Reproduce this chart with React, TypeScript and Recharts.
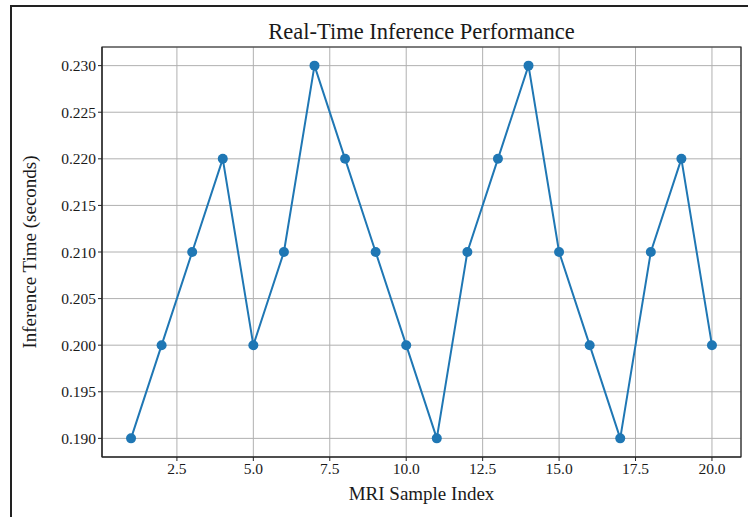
import React from 'react';
import {
  CartesianGrid,
  Label,
  Line,
  LineChart,
  ReferenceArea,
  XAxis,
  YAxis,
} from 'recharts';

const sampleIndex = [1, 2, 3, 4, 5, 6, 7, 8, 9, 10, 11, 12, 13, 14, 15, 16, 17, 18, 19, 20];
const inferenceTime = [
  0.19, 0.2, 0.21, 0.22, 0.2, 0.21, 0.23, 0.22, 0.21, 0.2,
  0.19, 0.21, 0.22, 0.23, 0.21, 0.2, 0.19, 0.21, 0.22, 0.2,
];
const xTicks = [2.5, 5, 7.5, 10, 12.5, 15, 17.5, 20];
const yTicks = [0.19, 0.195, 0.2, 0.205, 0.21, 0.215, 0.22, 0.225, 0.23];

const data = sampleIndex.map((idx, i) => ({ idx, time: inferenceTime[i] }));

const FONT = '"Liberation Serif", "DejaVu Serif", serif';
const tickStyle = { fontFamily: FONT, fontSize: 15.5, fill: '#1a1a1a' };

export default function App() {
  return (
    <div style={{ position: 'fixed', left: 0, top: 0, width: 748, height: 517, background: '#fff' }}>
      {/* frame around the figure */}
      <div
        style={{
          position: 'absolute',
          left: 10,
          top: 5,
          width: 738,
          height: 512,
          borderTop: '2px solid #222',
          borderLeft: '2px solid #222',
          boxSizing: 'border-box',
        }}
      />
      <div
        style={{
          position: 'absolute',
          left: 102,
          width: 639,
          top: 18,
          textAlign: 'center',
          fontFamily: FONT,
          fontSize: 22.5,
          lineHeight: '28px',
          color: '#1a1a1a',
        }}
      >
        Real-Time Inference Performance
      </div>
      <LineChart
        width={748}
        height={517}
        data={data}
        margin={{ top: 47, right: 7, left: 32, bottom: 30 }}
        style={{ position: 'absolute', left: 0, top: 0 }}
      >
        <CartesianGrid stroke='#b0b0b0' strokeWidth={1} />
        <XAxis
          dataKey='idx'
          type='number'
          domain={[0.05, 20.95]}
          ticks={xTicks}
          tickFormatter={(v: number) => v.toFixed(1)}
          interval={0}
          height={30}
          tick={tickStyle}
          tickSize={4}
          tickLine={{ stroke: '#222' }}
          axisLine={{ stroke: '#222' }}
        >
          <Label
            value='MRI Sample Index'
            position='bottom'
            offset={0}
            style={{ fontFamily: FONT, fontSize: 19, fill: '#1a1a1a' }}
          />
        </XAxis>
        <YAxis
          type='number'
          domain={[0.188, 0.232]}
          ticks={yTicks}
          tickFormatter={(v: number) => v.toFixed(3)}
          interval={0}
          width={70}
          tick={tickStyle}
          tickSize={4}
          tickLine={{ stroke: '#222' }}
          axisLine={{ stroke: '#222' }}
        >
          <Label
            value='Inference Time (seconds)'
            angle={-90}
            position='insideLeft'
            offset={-3}
            style={{ fontFamily: FONT, fontSize: 19, fill: '#1a1a1a', textAnchor: 'middle' }}
          />
        </YAxis>
        <ReferenceArea
          x1={0.05}
          x2={20.95}
          y1={0.188}
          y2={0.232}
          fill='none'
          stroke='#222'
          strokeWidth={1.2}
          ifOverflow='visible'
        />
        <Line
          dataKey='time'
          stroke='#1f77b4'
          strokeWidth={2}
          dot={{ r: 5, fill: '#1f77b4', stroke: '#1f77b4', strokeWidth: 0 }}
          activeDot={false}
          isAnimationActive={false}
        />
      </LineChart>
    </div>
  );
}
